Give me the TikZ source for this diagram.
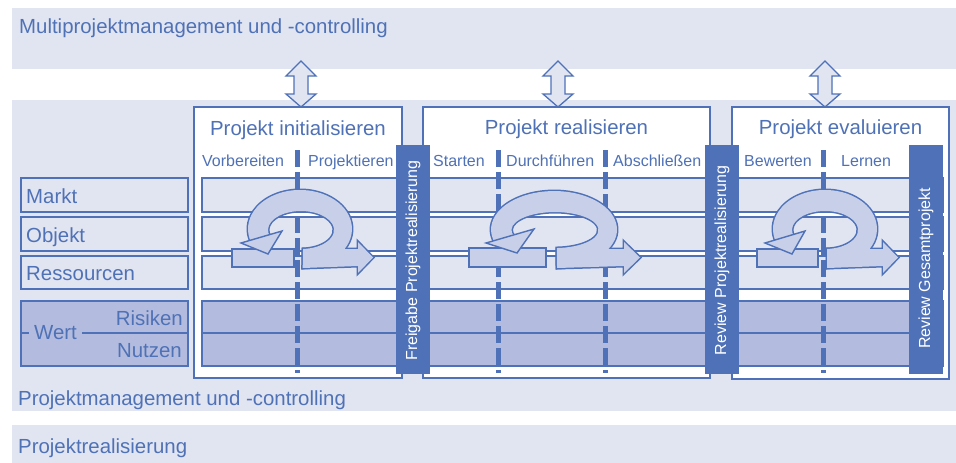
\documentclass[tikz,border=0pt]{standalone}
\usepackage{fontspec}
\setmainfont{Liberation Sans}
\definecolor{bandfill}{HTML}{E1E5F2}
\definecolor{pblue}{HTML}{4E71B8}
\definecolor{tblue}{HTML}{4F71B6}
\definecolor{darkfill}{HTML}{B3BCDF}
\definecolor{ringfill}{HTML}{C8CFE8}
\begin{document}
\begin{tikzpicture}[x=1pt,y=-1pt,
  band/.style={fill=bandfill},
  rowbox/.style={draw=pblue,line width=1.3pt,fill=bandfill},
  darkrow/.style={draw=pblue,line width=1.3pt,fill=darkfill},
  phasebox/.style={draw=pblue,line width=1.8pt,fill=white},
  gatebar/.style={fill=pblue},
  bigtxt/.style={font=\fontsize{20.4}{24}\selectfont,text=tblue,inner sep=0pt},
  smalltxt/.style={font=\fontsize{16}{19}\selectfont,text=tblue,inner sep=0pt},
  gatetxt/.style={font=\fontsize{16}{19}\selectfont,text=white,inner sep=0pt,rotate=90},
  divline/.style={pblue,line width=5pt,dash pattern=on 17pt off 5pt},
  ringout/.style={draw=pblue,line width=3pt,fill=ringfill},
  ringin/.style={fill=ringfill},
  arrowpart/.style={draw=pblue,line width=1.4pt,fill=ringfill,line join=miter},
  dblarrow/.style={draw=pblue,line width=1.3pt,fill=bandfill,line join=miter}
]
\useasboundingbox (0,0) rectangle (956,463);
% bands
\fill[band] (12,8) rectangle (956,69);
\fill[band] (12,100) rectangle (956,411);
\fill[band] (12,425) rectangle (956,463);
% phase boxes
\path[phasebox] (194,107) rectangle (402,378);
\path[phasebox] (423,107) rectangle (710,378);
\path[phasebox] (732,107) rectangle (949,379);
% left labels
\path[rowbox] (21,178) rectangle (188,212);
\path[rowbox] (21,217) rectangle (188,251);
\path[rowbox] (21,256) rectangle (188,289);
\path[darkrow] (21,301) rectangle (188,366);
\draw[pblue,line width=1.3pt] (21,333) -- (29,333);
\draw[pblue,line width=1.3pt] (82,333) -- (188,333);
% phase rows
\path[rowbox] (202,178) rectangle (943,212);
\path[rowbox] (202,217) rectangle (943,251);
\path[rowbox] (202,256) rectangle (943,289);
\path[darkrow] (202,301) rectangle (943,366);
\draw[pblue,line width=1.3pt] (202,333) -- (943,333);
% dashed dividers
\draw[divline] (297,150) -- (297,373);
\draw[divline] (498,150) -- (498,373);
\draw[divline] (605,150) -- (605,373);
\draw[divline] (823,150) -- (823,373);
% ===== cycle arrows =====
% box 1
\path[arrowpart] (232,249) rectangle (294,267);
\path[ringout] (303,249) -- (358,249) -- (358,242) -- (373,257.5) -- (358,273) -- (358,266) -- (303,268) -- cycle;
\path[ringout] (302.7,267.9) arc[start angle=87,end angle=-200,x radius=52,y radius=39] -- (270.0,236.5) arc[start angle=-200,end angle=86.5,x radius=33,y radius=19] -- cycle;
\path[ringin] (303,249) -- (358,249) -- (358,242) -- (373,257.5) -- (358,273) -- (358,266) -- (303,268) -- cycle;
\path[ringin] (302.7,267.9) arc[start angle=87,end angle=-200,x radius=52,y radius=39] -- (270.0,236.5) arc[start angle=-200,end angle=86.5,x radius=33,y radius=19] -- cycle;
\path[arrowpart] (241,243) -- (282,231) -- (268,254) -- cycle;
% box 2
\path[arrowpart] (469,248) rectangle (546,267);
\path[ringout] (557,249) -- (624,249) -- (624,242) -- (640,257.5) -- (624,273) -- (624,266) -- (557,268) -- cycle;
\path[ringout] (557.0,268.0) arc[start angle=87.3,end angle=-200,x radius=63,y radius=38.5] -- (514.1,236.2) arc[start angle=-200,end angle=87.4,x radius=43.5,y radius=18] -- cycle;
\path[ringin] (557,249) -- (624,249) -- (624,242) -- (640,257.5) -- (624,273) -- (624,266) -- (557,268) -- cycle;
\path[ringin] (557.0,268.0) arc[start angle=87.3,end angle=-200,x radius=63,y radius=38.5] -- (514.1,236.2) arc[start angle=-200,end angle=87.4,x radius=43.5,y radius=18] -- cycle;
\path[arrowpart] (486,243) -- (534,229) -- (517,253) -- cycle;
% box 3
\path[arrowpart] (757,249) rectangle (818,267);
\path[ringout] (827,249) -- (883,249) -- (883,242) -- (898,257.5) -- (883,273) -- (883,266) -- (827,268) -- cycle;
\path[ringout] (827.7,267.9) arc[start angle=87,end angle=-200,x radius=52,y radius=39] -- (794.0,236.5) arc[start angle=-200,end angle=86.5,x radius=33,y radius=19] -- cycle;
\path[ringin] (827,249) -- (883,249) -- (883,242) -- (898,257.5) -- (883,273) -- (883,266) -- (827,268) -- cycle;
\path[ringin] (827.7,267.9) arc[start angle=87,end angle=-200,x radius=52,y radius=39] -- (794.0,236.5) arc[start angle=-200,end angle=86.5,x radius=33,y radius=19] -- cycle;
\path[arrowpart] (765,243) -- (805,231) -- (792,254) -- cycle;
% gate bars
\fill[gatebar] (396,145) rectangle (430,374);
\fill[gatebar] (705,145) rectangle (739,374);
\fill[gatebar] (909,145) rectangle (943,374);
\node[gatetxt] (g1) at (413,260.5) {Freigabe Projektrealisierung};
\node[gatetxt] (g2) at (722,260.5) {Review Projektrealisierung};
\node[gatetxt] (g3) at (926,268.5) {Review Gesamtprojekt};
% double arrows
\foreach \cx in {301,558,825}{
  \path[dblarrow] (\cx,61) -- ++(15,15) -- ++(-8,0) -- ++(0,18) -- ++(8,0) -- (\cx,107) -- ++(-15,-13) -- ++(8,0) -- ++(0,-18) -- ++(-8,0) -- cycle;
}
% texts
\node[bigtxt,anchor=base west] (t1) at (19,33) {Multiprojektmanagement und -controlling};
\node[bigtxt,anchor=base west] (t2) at (18,405) {Projektmanagement und -controlling};
\node[bigtxt,anchor=base west] (t3) at (18,453) {Projektrealisierung};
\node[bigtxt,anchor=base] (p1) at (298,135) {Projekt initialisieren};
\node[bigtxt,anchor=base] (p2) at (566.5,134.5) {Projekt realisieren};
\node[bigtxt,anchor=base] (p3) at (840.5,134.5) {Projekt evaluieren};
\node[smalltxt,anchor=base west] (s1) at (202,166.5) {Vorbereiten};
\node[smalltxt,anchor=base west] (s2) at (308,166.5) {Projektieren};
\node[smalltxt,anchor=base west] (s3) at (433,166.5) {Starten};
\node[smalltxt,anchor=base west] (s4) at (506,166.5) {Durchführen};
\node[smalltxt,anchor=base west] (s5) at (613,166.5) {Abschließen};
\node[smalltxt,anchor=base west] (s6) at (744,166.5) {Bewerten};
\node[smalltxt,anchor=base west] (s7) at (841,166.5) {Lernen};
\node[bigtxt,anchor=base west] (r1) at (26,203) {Markt};
\node[bigtxt,anchor=base west] (r2) at (26,242) {Objekt};
\node[bigtxt,anchor=base west] (r3) at (26,280) {Ressourcen};
\node[bigtxt,anchor=base west] (w0) at (34,339) {Wert};
\node[bigtxt,anchor=base east] (w1) at (183,325) {Risiken};
\node[bigtxt,anchor=base east] (w2) at (182,357) {Nutzen};
\end{tikzpicture}
\end{document}
